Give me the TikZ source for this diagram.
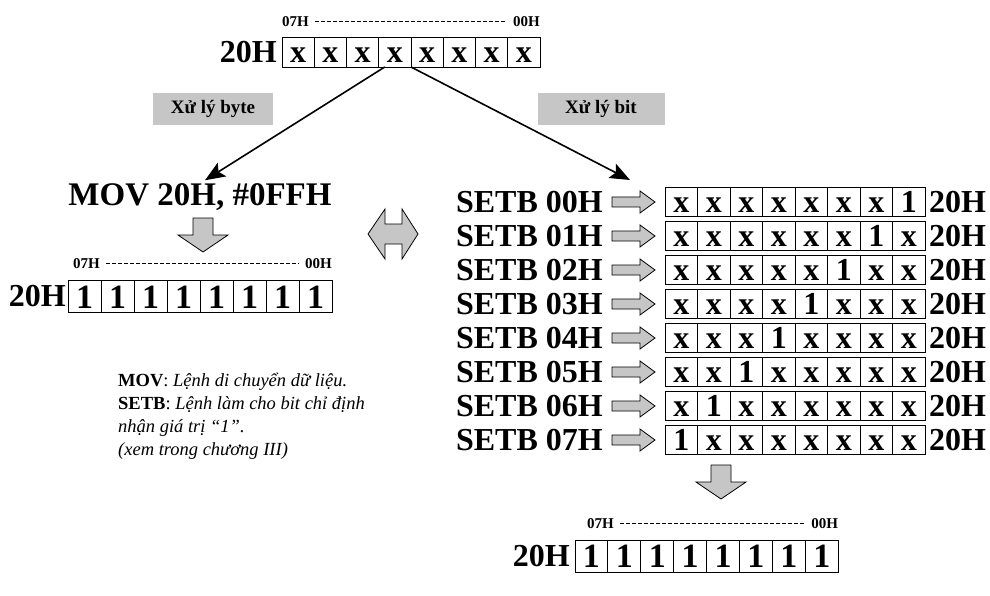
\documentclass[tikz,border=0pt]{standalone}
\usepackage{fontspec}
\setmainfont{Liberation Serif}
\usetikzlibrary{arrows.meta, positioning}

\tikzset{
  cell/.style={draw, line width=0.9pt, minimum width=32.5pt, minimum height=29pt,
    inner sep=0pt, outer sep=0pt, text height=21.5pt, text depth=0pt,
    font=\fontsize{32}{32}\selectfont\bfseries},
  onecell/.style={cell, minimum width=33pt, minimum height=32pt, text height=23pt,
    font=\fontsize{34}{34}\selectfont\bfseries},
  regname/.style={font=\fontsize{32}{32}\selectfont\bfseries, inner sep=0pt},
  bitname/.style={font=\fontsize{15}{15}\selectfont\bfseries, inner sep=0pt},
  tag/.style={fill=gray!45, font=\fontsize{19}{19}\selectfont\bfseries,
    minimum height=32pt, inner sep=0pt},
  blockarrow/.style={fill=gray!45, draw=black, line width=0.8pt, line join=miter},
  dashline/.style={dash pattern=on 3.5pt off 2.5pt, line width=0.8pt},
  branch/.style={-{Stealth[length=20pt, width=16pt, inset=4pt]}, line width=1.6pt},
}

\begin{document}
\begin{tikzpicture}[x=1pt, y=-1pt]
  \useasboundingbox (0,0) rectangle (990,596);

  % register 20H before
  \foreach \i in {1,...,8}
    \node[cell, minimum width=32.25pt, minimum height=30pt] (top\i) at ({282+32.25*(\i-0.5)},52) {x};
  \node[regname, left=5pt of top1] (topname) {20H};
  \node[bitname, anchor=south west] (top07) at ([yshift=10pt]top1.north west) {07H};
  \node[bitname, anchor=south east] (top00) at ([yshift=10pt]top8.north east) {00H};
  \draw[dashline] ([xshift=6pt]top07.east) -- ([xshift=-6pt]top00.west);

  % two ways
  \node[tag, minimum width=120pt] (bytetag) at (213,109) {Xử lý byte};
  \node[tag, minimum width=127pt] (bittag) at (601,109) {Xử lý bit};
  \node[regname, font=\fontsize{33}{33}\selectfont\bfseries] (mov) at (200,197) {MOV 20H, \#0FFH};
  \coordinate (bitend) at (630,180);
  \draw[branch] ([xshift=6pt]top4.south west) -- ([xshift=5pt,yshift=3pt]mov.north);
  \draw[branch] (top4.south east) -- (bitend);

  % byte result
  \filldraw[blockarrow] (193,218) -- (213,218) -- (213,235) -- (228,235) -- (203,252)
    -- (178,235) -- (193,235) -- cycle;
  \foreach \i in {1,...,8}
    \node[onecell] (byte\i) at ({68+33*(\i-0.5)},296.5) {1};
  \node[regname, left=2pt of byte1] (bytename) {20H};
  \node[bitname, anchor=south west] (byte07) at ([xshift=5pt,yshift=12pt]byte1.north west) {07H};
  \node[bitname, anchor=south east] (byte00) at ([yshift=12pt]byte8.north east) {00H};
  \draw[dashline] ([xshift=6pt]byte07.east) -- ([xshift=-6pt]byte00.west);

  % same result
  \filldraw[blockarrow] (368,234) -- (385,209) -- (385,224) -- (402,224) -- (402,209)
    -- (418,234) -- (402,259) -- (402,244) -- (385,244) -- (385,259) -- cycle;

  \node[align=left, anchor=north west, inner sep=0pt, font=\fontsize{18.5}{23}\selectfont]
    (notes) at (118,373)
    {\textbf{MOV}: \textit{Lệnh di chuyển dữ liệu.}\\
     \textbf{SETB}: \textit{Lệnh làm cho bit chỉ định}\\
     \textit{nhận giá trị “1”.}\\
     \textit{(xem trong chương III)}};

  % bit by bit
  \foreach \r in {0,...,7} {
    \node[regname, anchor=east] (setb\r) at (603,{202+34*\r}) {SETB 0\r H};
    \filldraw[blockarrow] (612,{197+34*\r}) -- (640,{197+34*\r}) -- (640,{191+34*\r})
      -- (655,{202+34*\r}) -- (640,{213+34*\r}) -- (640,{207+34*\r})
      -- (612,{207+34*\r}) -- cycle;
    \foreach \c in {1,...,8}
      \node[cell] (row\r-\c) at ({665+32.5*(\c-0.5)},{202+34*\r})
        {\ifnum\c=\numexpr8-\r\relax 1\else x\fi};
    \node[regname, right=4pt of row\r-8] (rowname\r) {20H};
  }

  % bit result
  \filldraw[blockarrow] (711,465) -- (731,465) -- (731,482) -- (746,482) -- (721,499)
    -- (696,482) -- (711,482) -- cycle;
  \foreach \i in {1,...,8}
    \node[onecell, minimum width=32.9pt] (bit\i) at ({575+32.9*(\i-0.5)},556) {1};
  \node[regname, left=5pt of bit1] (bitname) {20H};
  \node[bitname, anchor=south west] (bit07) at ([xshift=12pt,yshift=11pt]bit1.north west) {07H};
  \node[bitname, anchor=south east] (bit00) at ([yshift=11pt]bit8.north east) {00H};
  \draw[dashline] ([xshift=6pt]bit07.east) -- ([xshift=-6pt]bit00.west);
\end{tikzpicture}
\end{document}
